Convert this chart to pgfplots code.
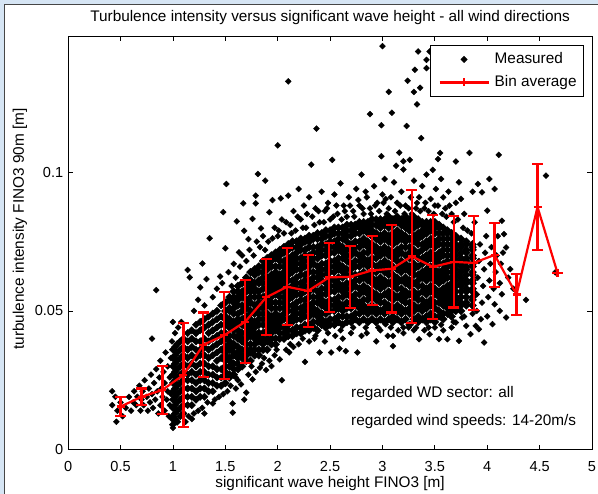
\documentclass[border=0pt]{standalone}
\usepackage{fontspec}
\setmainfont{Liberation Sans}
\usepackage{pgfplots}
\usepackage{pgfplotstable}
\pgfplotsset{compat=1.18}
\definecolor{figbg}{RGB}{214,229,244}
\definecolor{frameline}{RGB}{70,70,70}
\newcommand\ff{\fontsize{15.4}{18}\selectfont}
\newcommand\tf{\fontsize{14.6}{17}\selectfont}

\pgfplotstableread{
x a b c d e f g h i j
1.00 0.009 0.012 0.015 0.018 0.021 0.024 0.027 0.030 0.033 0.036
1.02 0.011 0.013 0.016 0.019 0.022 0.025 0.028 0.031 0.034 0.037
1.04 0.010 0.014 0.017 0.020 0.023 0.026 0.029 0.032 0.035 0.038
1.07 0.012 0.015 0.018 0.021 0.024 0.027 0.030 0.033 0.036 0.039
1.10 0.013 0.016 0.019 0.022 0.025 0.028 0.031 0.034 0.037 0.040
1.14 0.016 0.019 0.022 0.025 0.027 0.030 0.033 0.036 0.039 0.042
1.18 0.016 0.019 0.022 0.025 0.028 0.031 0.034 0.037 0.040 0.043
1.22 0.018 0.021 0.024 0.027 0.030 0.033 0.036 0.039 0.042 0.045
1.26 0.019 0.022 0.025 0.028 0.031 0.034 0.036 0.039 0.043 0.046
1.30 0.019 0.022 0.025 0.028 0.031 0.034 0.037 0.040 0.044 0.047
1.34 0.021 0.024 0.027 0.030 0.033 0.036 0.039 0.042 0.045 0.048
1.38 0.021 0.024 0.027 0.030 0.034 0.037 0.040 0.043 0.046 0.049
1.42 0.023 0.026 0.029 0.032 0.035 0.038 0.041 0.044 0.047 0.050
1.46 0.023 0.026 0.029 0.033 0.036 0.039 0.042 0.045 0.048 0.052
}\coreB

\pgfplotstableread{
x a b c d e f g h i j k l m n o p
1.50 0.024 0.027 0.028 0.030 0.032 0.034 0.035 0.037 0.040 0.041 0.042 0.045 0.047 0.048 0.050 0.053
1.54 0.026 0.027 0.030 0.032 0.033 0.036 0.038 0.039 0.041 0.044 0.046 0.047 0.050 0.051 0.054 0.055
1.58 0.027 0.029 0.031 0.034 0.035 0.037 0.038 0.041 0.043 0.045 0.046 0.049 0.051 0.053 0.055 0.057
1.62 0.029 0.031 0.033 0.035 0.037 0.040 0.041 0.043 0.046 0.047 0.049 0.052 0.054 0.055 0.057 0.059
1.66 0.030 0.033 0.034 0.036 0.039 0.040 0.042 0.045 0.046 0.047 0.050 0.052 0.055 0.056 0.057 0.060
1.70 0.032 0.034 0.036 0.038 0.040 0.042 0.044 0.046 0.048 0.051 0.052 0.054 0.057 0.058 0.060 0.062
1.74 0.032 0.035 0.036 0.038 0.041 0.043 0.045 0.047 0.049 0.050 0.053 0.055 0.057 0.059 0.061 0.064
1.78 0.034 0.036 0.038 0.040 0.042 0.044 0.046 0.049 0.050 0.052 0.055 0.057 0.058 0.060 0.063 0.065
1.82 0.034 0.036 0.039 0.041 0.042 0.045 0.047 0.049 0.051 0.053 0.055 0.057 0.060 0.061 0.064 0.066
1.86 0.036 0.038 0.040 0.042 0.045 0.047 0.049 0.051 0.053 0.055 0.058 0.060 0.062 0.064 0.066 0.068
1.90 0.036 0.039 0.040 0.043 0.045 0.047 0.049 0.052 0.054 0.056 0.058 0.060 0.062 0.065 0.067 0.069
1.94 0.038 0.040 0.042 0.044 0.046 0.048 0.051 0.053 0.055 0.057 0.059 0.061 0.063 0.066 0.068 0.070
1.98 0.038 0.040 0.043 0.045 0.047 0.049 0.051 0.053 0.056 0.058 0.060 0.062 0.064 0.066 0.069 0.071
2.02 0.040 0.042 0.044 0.046 0.048 0.051 0.053 0.055 0.057 0.059 0.061 0.063 0.066 0.068 0.070 0.072
2.06 0.040 0.042 0.044 0.047 0.049 0.051 0.053 0.055 0.057 0.060 0.062 0.064 0.066 0.068 0.071 0.073
2.10 0.041 0.043 0.045 0.047 0.050 0.052 0.054 0.056 0.058 0.061 0.063 0.065 0.067 0.069 0.072 0.074
2.14 0.041 0.043 0.046 0.048 0.050 0.052 0.055 0.057 0.059 0.061 0.064 0.066 0.068 0.070 0.073 0.075
2.18 0.042 0.044 0.047 0.049 0.051 0.053 0.056 0.058 0.060 0.062 0.065 0.067 0.069 0.071 0.073 0.075
2.22 0.042 0.044 0.047 0.049 0.051 0.054 0.056 0.058 0.060 0.063 0.065 0.067 0.069 0.072 0.074 0.076
2.26 0.043 0.045 0.048 0.050 0.052 0.054 0.057 0.059 0.061 0.063 0.066 0.068 0.070 0.072 0.075 0.076
2.30 0.043 0.045 0.048 0.050 0.052 0.055 0.057 0.059 0.061 0.064 0.066 0.068 0.070 0.073 0.075 0.077
2.34 0.044 0.046 0.049 0.051 0.053 0.055 0.058 0.060 0.062 0.064 0.067 0.069 0.071 0.073 0.076 0.077
2.38 0.043 0.046 0.048 0.050 0.053 0.055 0.057 0.060 0.062 0.064 0.066 0.069 0.071 0.073 0.076 0.078
2.42 0.045 0.047 0.049 0.052 0.054 0.056 0.058 0.061 0.063 0.065 0.067 0.070 0.072 0.074 0.076 0.078
2.46 0.044 0.046 0.049 0.051 0.053 0.056 0.058 0.060 0.063 0.065 0.067 0.070 0.072 0.074 0.077 0.079
2.50 0.045 0.047 0.050 0.052 0.054 0.057 0.059 0.061 0.064 0.066 0.068 0.071 0.073 0.075 0.077 0.079
2.54 0.045 0.047 0.050 0.052 0.054 0.057 0.059 0.061 0.064 0.066 0.068 0.071 0.073 0.075 0.078 0.080
2.58 0.046 0.048 0.051 0.053 0.055 0.058 0.060 0.062 0.065 0.067 0.069 0.072 0.074 0.076 0.078 0.080
2.62 0.045 0.048 0.050 0.052 0.055 0.057 0.059 0.062 0.064 0.066 0.069 0.071 0.073 0.076 0.078 0.080
2.66 0.046 0.048 0.051 0.053 0.056 0.058 0.060 0.063 0.065 0.068 0.070 0.072 0.075 0.077 0.079 0.081
2.70 0.046 0.048 0.051 0.053 0.055 0.058 0.060 0.063 0.065 0.067 0.070 0.072 0.074 0.077 0.079 0.081
2.74 0.047 0.049 0.052 0.054 0.056 0.059 0.061 0.063 0.066 0.068 0.071 0.073 0.075 0.078 0.080 0.081
2.78 0.046 0.049 0.051 0.053 0.056 0.058 0.061 0.063 0.066 0.068 0.070 0.073 0.075 0.078 0.080 0.082
2.82 0.047 0.050 0.052 0.054 0.057 0.059 0.062 0.064 0.067 0.069 0.071 0.074 0.076 0.079 0.081 0.082
2.86 0.046 0.049 0.051 0.054 0.056 0.058 0.061 0.063 0.066 0.068 0.071 0.073 0.075 0.078 0.080 0.082
2.90 0.047 0.050 0.052 0.055 0.057 0.060 0.062 0.064 0.067 0.069 0.072 0.074 0.077 0.079 0.081 0.083
2.94 0.046 0.049 0.051 0.054 0.056 0.059 0.061 0.064 0.066 0.069 0.071 0.073 0.076 0.078 0.081 0.083
2.98 0.047 0.050 0.053 0.055 0.058 0.060 0.062 0.065 0.067 0.070 0.072 0.075 0.077 0.080 0.082 0.083
3.02 0.046 0.049 0.051 0.053 0.056 0.059 0.061 0.064 0.066 0.068 0.071 0.073 0.076 0.078 0.081 0.083
3.06 0.047 0.050 0.052 0.055 0.057 0.060 0.063 0.065 0.067 0.070 0.072 0.075 0.077 0.080 0.082 0.084
3.10 0.046 0.048 0.051 0.054 0.056 0.059 0.061 0.063 0.066 0.069 0.071 0.074 0.076 0.078 0.081 0.083
3.14 0.047 0.050 0.052 0.055 0.058 0.060 0.062 0.065 0.068 0.070 0.072 0.075 0.077 0.079 0.082 0.084
3.18 0.046 0.049 0.051 0.054 0.056 0.058 0.061 0.064 0.066 0.068 0.071 0.073 0.076 0.078 0.081 0.083
3.22 0.047 0.050 0.053 0.055 0.057 0.060 0.062 0.065 0.067 0.070 0.073 0.075 0.077 0.080 0.082 0.084
3.26 0.045 0.049 0.051 0.053 0.056 0.059 0.061 0.064 0.066 0.069 0.071 0.073 0.076 0.079 0.081 0.083
3.30 0.047 0.050 0.052 0.055 0.057 0.060 0.063 0.065 0.067 0.070 0.072 0.075 0.077 0.080 0.082 0.084
3.34 0.046 0.048 0.051 0.054 0.056 0.059 0.061 0.063 0.066 0.069 0.071 0.074 0.076 0.078 0.081 0.083
3.38 0.047 0.050 0.052 0.054 0.057 0.059 0.062 0.064 0.067 0.069 0.072 0.074 0.077 0.079 0.081 0.082
3.42 0.046 0.048 0.051 0.053 0.056 0.058 0.061 0.063 0.065 0.068 0.070 0.073 0.075 0.078 0.080 0.082
3.46 0.047 0.049 0.052 0.054 0.057 0.059 0.062 0.064 0.066 0.069 0.071 0.074 0.076 0.079 0.081 0.082
3.50 0.046 0.048 0.051 0.053 0.056 0.058 0.061 0.063 0.065 0.068 0.070 0.073 0.075 0.078 0.080 0.082
3.54 0.048 0.050 0.053 0.055 0.057 0.060 0.062 0.064 0.067 0.069 0.071 0.074 0.076 0.078 0.080 0.081
3.58 0.047 0.049 0.052 0.054 0.056 0.058 0.061 0.063 0.065 0.067 0.070 0.072 0.074 0.076 0.078 0.080
3.62 0.049 0.051 0.053 0.055 0.057 0.059 0.062 0.064 0.066 0.068 0.070 0.072 0.074 0.076 0.078 0.079
3.66 0.048 0.050 0.052 0.054 0.056 0.058 0.060 0.062 0.064 0.066 0.068 0.070 0.072 0.074 0.076 0.078
3.70 0.050 0.052 0.054 0.055 0.057 0.059 0.061 0.063 0.065 0.067 0.068 0.070 0.072 0.074 0.076 0.077
3.75 0.050 0.052 0.053 0.055 0.057 0.059 0.060 0.062 0.064 0.066 0.067 0.069 0.071 0.073 0.074 0.076
3.80 0.052 0.053 0.055 0.057 0.058 0.060 0.061 0.063 0.065 0.066 0.068 0.069 0.071 0.072 0.074 0.075
3.86 0.052 0.054 0.055 0.057 0.058 0.060 0.061 0.063 0.064 0.066 0.067 0.069 0.070 0.072 0.073 0.074
}\coreA

\pgfplotstableread{
x y
0.42 0.021
0.42 0.016
0.45 0.019
0.46 0.010
0.47 0.014
0.50 0.017
0.52 0.012
0.55 0.015
0.58 0.019
0.60 0.014
0.62 0.017
0.63 0.021
0.65 0.016
0.66 0.019
0.68 0.023
0.69 0.014
0.70 0.018
0.71 0.021
0.72 0.016
0.73 0.025
0.75 0.019
0.76 0.014
0.77 0.022
0.78 0.017
0.79 0.027
0.80 0.020
0.80 0.040
0.81 0.015
0.82 0.024
0.83 0.018
0.84 0.0575
0.84 0.029
0.85 0.021
0.86 0.013
0.87 0.026
0.88 0.016
0.88 0.032
0.89 0.022
0.90 0.019
0.91 0.028
0.92 0.014
0.92 0.024
0.93 0.035
0.94 0.018
0.95 0.021
0.95 0.030
0.96 0.012
0.97 0.026
0.97 0.016
0.98 0.033
0.98 0.020
0.99 0.011
1.00 0.0078
0.99 0.039
1.00 0.046
1.02 0.042
1.05 0.044
1.08 0.046
1.12 0.010
1.15 0.012
1.18 0.011
1.20 0.013
1.24 0.014
1.28 0.015
1.30 0.013
1.33 0.017
1.38 0.0166
1.40 0.018
1.44 0.019
1.48 0.020
1.52 0.021
1.57 0.0133
1.57 0.0166
1.55 0.023
1.60 0.022
1.62 0.025
1.65 0.0235
1.68 0.018
1.70 0.0205
1.72 0.027
1.76 0.0253
1.79 0.028
1.83 0.0295
1.85 0.031
1.89 0.0287
1.92 0.032
1.94 0.0301
1.97 0.034
2.02 0.0325
2.04 0.025
2.08 0.036
2.11 0.035
2.15 0.037
2.20 0.038
2.26 0.0316
2.30 0.039
2.35 0.040
2.40 0.035
2.45 0.039
2.51 0.035
2.55 0.041
2.59 0.0364
2.62 0.040
2.65 0.0355
2.70 0.042
2.76 0.035
2.80 0.041
2.85 0.042
2.94 0.039
2.98 0.043
3.03 0.0452
3.05 0.041
3.10 0.0373
3.10 0.041
3.15 0.043
3.20 0.042
3.25 0.044
3.30 0.043
3.35 0.0398
3.40 0.043
3.45 0.0416
3.50 0.044
3.54 0.0398
3.58 0.043
3.62 0.0398
3.66 0.044
3.70 0.0458
3.73 0.0392
3.76 0.0476
3.80 0.0446
3.84 0.0416
3.89 0.0446
3.92 0.0434
3.94 0.047
3.97 0.0386
4.05 0.0452
4.07 0.0524
4.14 0.056
4.18 0.0476
4.37 0.054
1.14 0.0648
1.16 0.0621
1.20 0.050
1.24 0.054
1.26 0.0585
1.28 0.0671
1.30 0.052
1.32 0.0615
1.35 0.0762
1.38 0.055
1.42 0.058
1.45 0.0624
1.47 0.060
1.48 0.0856
1.50 0.0726
1.51 0.0958
1.53 0.064
1.56 0.059
1.58 0.067
1.60 0.062
1.61 0.0823
1.63 0.0711
1.64 0.066
1.66 0.070
1.67 0.0888
1.68 0.0789
1.70 0.068
1.72 0.0759
1.73 0.072
1.76 0.0832
1.77 0.070
1.79 0.0916
1.79 0.0888
1.80 0.075
1.81 0.0994
1.83 0.073
1.84 0.0798
1.86 0.077
1.88 0.097
1.88 0.072
1.91 0.075
1.92 0.0856
1.95 0.090
1.95 0.0762
1.97 0.080
2.00 0.1097
2.00 0.077
2.03 0.0906
2.04 0.083
2.06 0.078
2.10 0.0916
2.10 0.1328
2.12 0.081
2.15 0.086
2.17 0.079
2.20 0.094
2.22 0.083
2.25 0.088
2.27 0.080
2.30 0.091
2.32 0.1028
2.33 0.084
2.36 0.087
2.37 0.1158
2.40 0.082
2.42 0.093
2.45 0.086
2.48 0.089
2.50 0.083
2.52 0.1045
2.54 0.092
2.57 0.085
2.60 0.096
2.63 0.088
2.66 0.084
2.68 0.091
2.72 0.086
2.75 0.094
2.78 0.088
2.80 0.0992
2.82 0.085
2.85 0.091
2.88 0.121
2.88 0.087
2.92 0.095
2.95 0.089
2.99 0.117
2.99 0.1058
3.00 0.1455
3.00 0.092
3.02 0.0976
3.03 0.0904
3.06 0.129
3.06 0.087
3.09 0.1215
3.11 0.0964
3.13 0.1024
3.14 0.089
3.16 0.1071
3.18 0.093
3.20 0.104
3.20 0.101
3.22 0.088
3.23 0.1167
3.24 0.133
3.26 0.1045
3.27 0.091
3.30 0.097
3.30 0.129
3.31 0.137
3.32 0.087
3.33 0.1245
3.34 0.1436
3.35 0.091
3.36 0.1305
3.37 0.1123
3.38 0.095
3.40 0.087
3.42 0.1406
3.42 0.1376
3.42 0.0992
3.45 0.1436
3.46 0.0904
3.48 0.1009
3.50 0.088
3.51 0.094
3.53 0.1048
3.55 0.107
3.56 0.0976
3.58 0.091
3.60 0.087
3.63 0.093
3.66 0.085
3.70 0.1039
3.70 0.089
3.73 0.0964
3.75 0.0904
3.78 0.085
3.83 0.107
3.86 0.093
3.88 0.082
3.91 0.0958
3.95 0.0928
4.00 0.0862
4.02 0.0976
4.07 0.094
4.11 0.1063
4.14 0.0825
4.16 0.0777
4.18 0.0729
4.22 0.0651
4.56 0.0988
4.65 0.0639
3.90 0.050
3.90 0.056
3.91 0.062
3.92 0.068
3.93 0.074
3.95 0.053
3.96 0.059
3.97 0.065
3.98 0.071
3.99 0.077
4.00 0.048
4.01 0.055
4.02 0.061
4.03 0.067
4.04 0.073
4.06 0.058
4.08 0.064
4.09 0.070
4.10 0.077
4.12 0.050
4.12 0.060
4.13 0.067
4.15 0.071
4.20 0.062
4.25 0.058
2.01 0.079
2.08 0.082
2.13 0.078
2.19 0.084
2.24 0.080
2.28 0.085
2.35 0.081
2.39 0.086
2.44 0.082
2.47 0.087
2.53 0.084
2.56 0.088
2.61 0.083
2.64 0.086
2.69 0.088
2.73 0.084
2.77 0.090
2.81 0.087
2.84 0.093
2.89 0.085
2.93 0.088
2.97 0.086
3.01 0.089
3.04 0.085
3.08 0.091
3.12 0.086
3.17 0.088
3.21 0.085
3.25 0.087
3.28 0.085
3.33 0.089
3.36 0.086
3.41 0.089
3.44 0.086
3.49 0.085
3.53 0.088
3.57 0.085
3.61 0.084
3.64 0.088
3.68 0.082
3.72 0.083
3.77 0.080
3.81 0.079
3.85 0.078
1.60 0.026
1.75 0.030
1.87 0.033
1.99 0.036
2.12 0.038
2.24 0.040
2.36 0.041
2.48 0.042
2.60 0.043
2.72 0.044
2.84 0.044
2.96 0.044
3.08 0.044
3.20 0.044
3.32 0.044
3.44 0.044
3.56 0.045
3.68 0.046
3.78 0.048
3.86 0.049
}\fringe

\pgfplotstableread{
x y e
0.50 0.0155 0.0035
0.70 0.0190 0.0030
0.90 0.0215 0.0086
1.10 0.0269 0.0187
1.29 0.0378 0.0116
1.49 0.0412 0.0157
1.69 0.0461 0.0150
1.89 0.0549 0.0137
2.09 0.0587 0.0139
2.29 0.0572 0.0130
2.49 0.0621 0.0124
2.69 0.0623 0.0112
2.90 0.0646 0.0124
3.09 0.0652 0.0158
3.28 0.0697 0.0240
3.48 0.0659 0.0187
3.68 0.0677 0.0165
3.87 0.0673 0.0169
4.07 0.0702 0.0116
4.28 0.0559 0.0073
4.48 0.0875 0.0154
4.67 0.0638 0
}\bins

\begin{document}
\begin{tikzpicture}
\fill[figbg] (-68.2bp,-44.5bp) rectangle (529.8bp,449.5bp);
\fill[white] (-63.2bp,-44.5bp) rectangle (529.8bp,444.5bp);
\draw[frameline, line width=1bp] (-63.2bp,-44.5bp) -- (-63.2bp,444.5bp) -- (529.8bp,444.5bp);
\begin{axis}[
  at={(0,0)}, anchor=south west,
  scale only axis, width=523.8bp, height=413bp,
  xmin=0, xmax=5, ymin=0, ymax=0.149,
  clip marker paths=true,
  axis line style={black, line width=0.8bp},
  tick align=inside, tick pos=both,
  major tick length=5bp,
  tick style={black, line width=0.8bp},
  xtick={0,0.5,1,1.5,2,2.5,3,3.5,4,4.5,5},
  xticklabels={0,0.5,1,1.5,2,2.5,3,3.5,4,4.5,5},
  ytick={0,0.05,0.1},
  yticklabels={0,0.05,0.1},
  tick label style={font=\tf},
  xticklabel style={anchor=north, yshift=-8bp},
  yticklabel style={anchor=east, xshift=-1.5bp},
  title={Turbulence intensity versus significant wave height - all wind directions},
  title style={font=\ff, at={(0.5,1.022)}, anchor=base},
  xlabel={significant wave height FINO3 [m]},
  xlabel style={font=\ff, at={(0.5,-0.093)}, anchor=base},
  ylabel={turbulence intensity FINO3 90m [m]},
  ylabel style={font=\ff, at={(-0.092,0.534)}, anchor=center},
  legend style={font=\ff, at={(0.9847,0.9794)}, anchor=north east,
    draw=black, line width=0.8bp, fill=white, inner xsep=5bp, inner ysep=5bp,
    row sep=5bp, column sep=3bp,
    nodes={inner sep=2bp, text height=11bp, text depth=3bp}},
  legend cell align=left,
  legend image code/.code={
    \path (0bp,0bp);
    \draw[mark repeat=2,mark phase=2,#1] plot coordinates {(3bp,0bp) (27.5bp,0bp) (52bp,0bp)};
  },
]
\pgfplotsinvokeforeach{a,b,c,d,e,f,g,h,i,j,k,l,m,n,o,p}{
  \addplot[only marks, mark=square*, mark size=2.8bp, mark options={rotate=45, draw=none, fill=black}, forget plot] table[x=x,y=#1]{\coreA};
}
\pgfplotsinvokeforeach{a,b,c,d,e,f,g,h,i,j}{
  \addplot[only marks, mark=square*, mark size=2.6bp, mark options={rotate=45, draw=none, fill=black}, forget plot] table[x=x,y=#1]{\coreB};
}
\addplot[only marks, mark=square*, mark size=2.1bp, mark options={rotate=45, draw=none, fill=black}, forget plot] table[x=x,y=y]{\fringe};

\addlegendimage{only marks, mark=square*, mark size=2.1bp, mark options={rotate=45, draw=none, fill=black}}
\addlegendentry{Measured}

\addplot[red, line width=2.2bp, mark=+, mark size=4bp, mark options={solid, red, line width=2.2bp},
  error bars/.cd, y dir=both, y explicit,
  error mark=|, error mark options={red, line width=2.2bp, mark size=5.5bp},
  error bar style={red, line width=2.2bp}]
  table[x=x, y=y, y error=e]{\bins};
\addlegendentry{Bin average}

\node[anchor=base west, inner sep=0pt, font=\ff] at (axis cs:2.70,0.0188) {regarded WD sector: all};
\node[anchor=base west, inner sep=0pt, font=\ff] at (axis cs:2.70,0.0085) {regarded wind speeds: 14-20m/s};
\end{axis}
\pgfresetboundingbox
\path (-68.2bp,-44.5bp) rectangle (529.8bp,449.5bp);
\end{tikzpicture}
\end{document}
